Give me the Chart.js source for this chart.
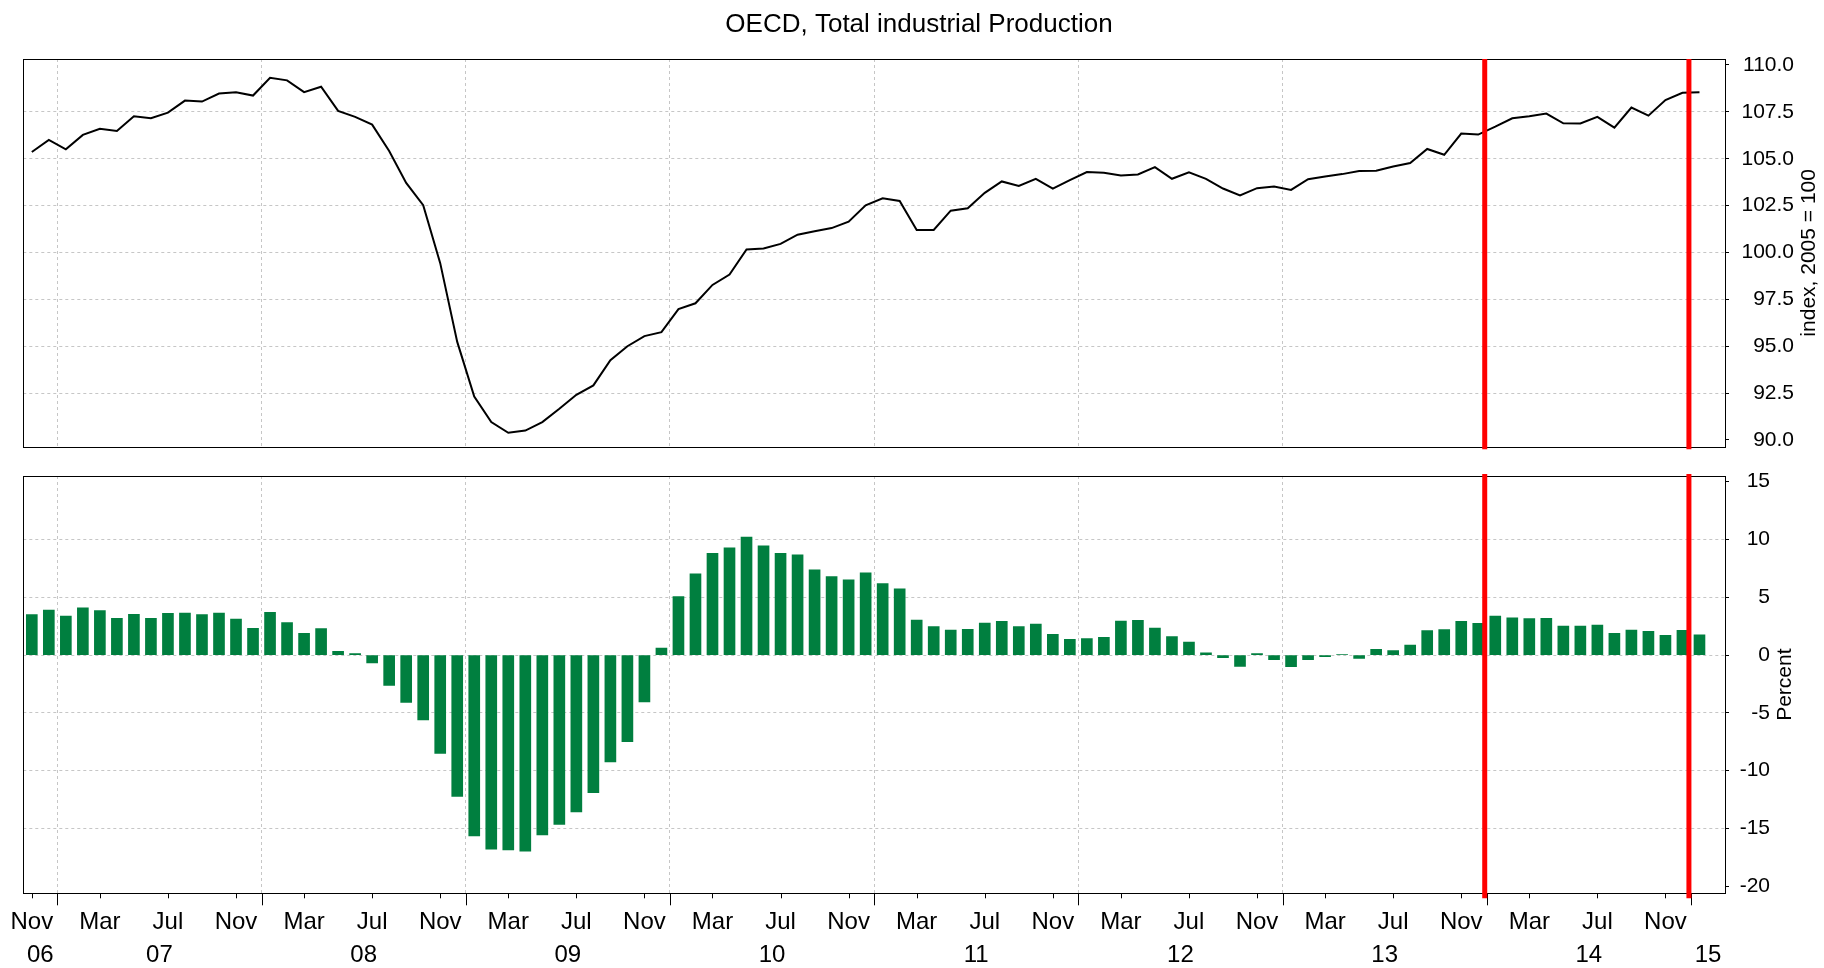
<!DOCTYPE html>
<html>
<head>
<meta charset="utf-8">
<title>OECD, Total industrial Production</title>
<script src="https://cdn.jsdelivr.net/npm/chart.js@4.4.1/dist/chart.umd.min.js"></script>
<style>
    html, body { margin: 0; padding: 0; background: #fff; }
    #wrap { position: relative; width: 1824px; height: 968px; }
    canvas { position: absolute; left: 0; }
    #chart_index { top: 0; }
    #chart_growth { top: 462px; }
</style>
</head>
<body>
<div id="wrap">
    <canvas id="chart_index" width="1824" height="462"></canvas>
    <canvas id="chart_growth" width="1824" height="506"></canvas>
</div>
<script>
    // monthly data, Nov 2006 .. Jan 2015
    const first_month = 11;          // Nov 2006
    const x_min = 10;                // axis start, months since Jan 2006
    const x_max = 110;               // axis end

    const index_values = [
        105.36, 106.0,
        105.5, 106.27, 106.6, 106.48, 107.27, 107.16, 107.46, 108.1, 108.05, 108.48, 108.55, 108.37,
        109.32, 109.18, 108.55, 108.84, 107.55, 107.23, 106.82, 105.41, 103.71, 102.52, 99.43, 95.23,
        92.32, 90.95, 90.38, 90.5, 90.95, 91.66, 92.41, 92.91, 94.25, 95.0, 95.54, 95.75,
        96.98, 97.29, 98.27, 98.82, 100.16, 100.21, 100.46, 100.95, 101.13, 101.3, 101.64, 102.52,
        102.89, 102.75, 101.2, 101.2, 102.23, 102.36, 103.18, 103.79, 103.55, 103.93, 103.41, 103.86,
        104.29, 104.25, 104.11, 104.16, 104.55, 103.93, 104.27, 103.93, 103.41, 103.04, 103.43, 103.52,
        103.34, 103.91, 104.05, 104.18, 104.34, 104.36, 104.59, 104.77, 105.52, 105.21, 106.34, 106.29,
        106.71, 107.16, 107.27, 107.41, 106.89, 106.88, 107.23, 106.66, 107.73, 107.3, 108.13, 108.52,
        108.55
    ];
    const growth_values = [
        3.5, 3.9,
        3.38, 4.08, 3.84, 3.18, 3.53, 3.18, 3.61, 3.64, 3.5, 3.64, 3.12, 2.31,
        3.7, 2.8, 1.88, 2.28, 0.32, 0.12, -0.69, -2.63, -4.1, -5.61, -8.5, -12.23,
        -15.64, -16.79, -16.85, -16.97, -15.55, -14.65, -13.58, -11.91, -9.25, -7.49, -4.05, 0.61,
        5.06, 7.02, 8.79, 9.28, 10.2, 9.45, 8.79, 8.67, 7.37, 6.79, 6.5, 7.11,
        6.18, 5.72, 3.03, 2.46, 2.17, 2.23, 2.77, 2.92, 2.46, 2.69, 1.79, 1.36,
        1.42, 1.53, 2.95, 3.01, 2.34, 1.59, 1.13, 0.2, -0.23, -0.98, 0.12, -0.4,
        -1.01, -0.4, -0.14, 0.05, -0.29, 0.49, 0.38, 0.87, 2.11, 2.2, 2.92, 2.75,
        3.38, 3.21, 3.15, 3.18, 2.51, 2.51, 2.6, 1.88, 2.17, 2.05, 1.71, 2.14,
        1.76
    ];
    const index_ticks = [90, 92.5, 95, 97.5, 100, 102.5, 105, 107.5, 110];
    const growth_ticks = [-20, -15, -10, -5, 0, 5, 10, 15];
    const month_names = {3: 'Mar', 7: 'Jul', 11: 'Nov'};
    const year_names = ['06', '07', '08', '09', '10', '11', '12', '13', '14', '15'];
    const marker_x = [95.88, 107.88];   // red lines, end of Dec 13 and Dec 14

    const grid_color = '#c6c6c6';
    const no_color = 'rgba(0,0,0,0)';
    const font_family = '"Liberation Sans", Arial, Helvetica, sans-serif';

    Chart.defaults.font.family = font_family;
    Chart.defaults.color = '#000';

    function monthX(i) {
        return (first_month - 1) + i + 0.5;
    }
    const index_points = index_values.map((v, i) => ({x: monthX(i), y: v}));
    const growth_points = growth_values.map((v, i) => ({x: monthX(i), y: v}));

    const year_starts = [];
    for (let m = 12; m < x_max; m += 12) year_starts.push(m);

    const x_labels = new Map();
    const x_ticks = [];
    for (let m = x_min; m < x_max; m++) {
        const name = month_names[m % 12 + 1];
        if (name) {
            x_ticks.push(m + 0.5);
            x_labels.set(m + 0.5, name);
        }
    }
    year_starts.forEach(v => x_ticks.push(v));
    year_names.forEach((name, k) => {
        const a = Math.max(k * 12, x_min);
        const b = Math.min(k * 12 + 12, x_max);
        if (b > a) {
            x_ticks.push((a + b) / 2);
            x_labels.set((a + b) / 2, ['', name]);
        }
    });
    x_ticks.sort((a, b) => a - b);

    function innerGrid(ticks) {
        return function(ctx) {
            if (!ctx.tick) return no_color;
            const v = ctx.tick.value;
            return (v > ticks[0] && v < ticks[ticks.length - 1]) ? grid_color : no_color;
        };
    }

    const framePlugin = {
        id: 'frame',
        afterDraw(chart, args, opts) {
            const a = chart.chartArea;
            const ctx = chart.ctx;
            ctx.save();
            // box around the plot
            ctx.strokeStyle = '#000';
            ctx.lineWidth = 1;
            ctx.strokeRect(Math.round(a.left) + 0.5, Math.round(a.top) + 0.5,
                Math.round(a.right) - Math.round(a.left), Math.round(a.bottom) - Math.round(a.top));
            // month / year tick marks below the plot
            const sx = chart.scales.x;
            if (opts.xTicks) {
                sx.ticks.forEach(t => {
                    let len = 0;
                    if (t.value % 12 === 0) len = 12;
                    else if (x_labels.has(t.value) && !Array.isArray(x_labels.get(t.value))) len = 5;
                    if (!len) return;
                    const px = Math.round(sx.getPixelForValue(t.value)) + 0.5;
                    ctx.beginPath();
                    ctx.moveTo(px, a.bottom);
                    ctx.lineTo(px, a.bottom + len);
                    ctx.stroke();
                });
            }
            // red markers
            ctx.strokeStyle = '#ff0000';
            ctx.lineWidth = 5;
            marker_x.forEach(v => {
                const px = sx.getPixelForValue(v);
                ctx.beginPath();
                ctx.moveTo(px, a.top - opts.above);
                ctx.lineTo(px, a.bottom + opts.below);
                ctx.stroke();
            });
            ctx.fillStyle = '#000';
            ctx.textAlign = 'center';
            ctx.textBaseline = 'middle';
            // chart heading
            if (opts.heading) {
                ctx.font = '26px ' + font_family;
                ctx.fillText(opts.heading, opts.headingX, opts.headingY);
            }
            // rotated axis title on the right
            ctx.translate(a.right + opts.titleOffset, (a.top + a.bottom) / 2);
            ctx.rotate(-Math.PI / 2);
            ctx.font = '21px ' + font_family;
            ctx.fillText(opts.title, 0, 0);
            ctx.restore();
        }
    };

    new Chart(document.getElementById('chart_index'), {
        type: 'line',
        data: {
            datasets: [{
                label: 'Index',
                data: index_points,
                borderColor: '#000',
                borderWidth: 2,
                pointRadius: 0,
                tension: 0
            }]
        },
        options: {
            responsive: false,
            animation: false,
            layout: {
                autoPadding: false,
                padding: {left: 23.3, right: 30, top: 59, bottom: 15.3}
            },
            plugins: {
                legend: {display: false},
                tooltip: {enabled: false},
                frame: {
                    title: 'index, 2005 = 100', titleOffset: 84, above: 0, below: 2.5,
                    heading: 'OECD, Total industrial Production', headingX: 919, headingY: 25
                }
            },
            scales: {
                x: {
                    type: 'linear',
                    min: x_min,
                    max: x_max,
                    offset: false,
                    afterBuildTicks: s => { s.ticks = year_starts.map(v => ({value: v})); },
                    afterFit: s => { s.height = 0; s.paddingLeft = 0; s.paddingRight = 0; },
                    ticks: {display: false},
                    grid: {color: grid_color, drawTicks: false, offset: false},
                    border: {display: false, dash: [3, 3]}
                },
                y: {
                    position: 'right',
                    min: 89.64,
                    max: 110.32,
                    afterBuildTicks: s => { s.ticks = index_ticks.map(v => ({value: v})); },
                    afterFit: s => { s.width = 69; s.paddingTop = 0; s.paddingBottom = 0; },
                    ticks: {
                        font: {size: 21},
                        color: '#000',
                        padding: 14,
                        crossAlign: 'far',
                        callback: v => v.toFixed(1)
                    },
                    grid: {color: innerGrid(index_ticks), tickColor: '#000', tickLength: 4},
                    border: {display: false, dash: [3, 3]}
                }
            }
        },
        plugins: [framePlugin]
    });

    new Chart(document.getElementById('chart_growth'), {
        type: 'bar',
        data: {
            datasets: [{
                label: 'Percent',
                data: growth_points,
                backgroundColor: '#007f3f',
                borderWidth: 0,
                barThickness: 11
            }]
        },
        options: {
            responsive: false,
            animation: false,
            layout: {
                autoPadding: false,
                padding: {left: 23.3, right: 54, top: 14, bottom: 0}
            },
            plugins: {
                legend: {display: false},
                tooltip: {enabled: false},
                frame: {title: 'Percent', titleOffset: 60, above: 2, below: 5, xTicks: true}
            },
            scales: {
                x: {
                    type: 'linear',
                    min: x_min,
                    max: x_max,
                    offset: false,
                    afterBuildTicks: s => { s.ticks = x_ticks.map(v => ({value: v})); },
                    afterFit: s => { s.height = 74.7; s.paddingLeft = 0; s.paddingRight = 0; },
                    ticks: {
                        autoSkip: false,
                        maxRotation: 0,
                        minRotation: 0,
                        padding: 13,
                        color: '#000',
                        font: {size: 24, lineHeight: 1.35},
                        callback: v => x_labels.has(v) ? x_labels.get(v) : ''
                    },
                    grid: {
                        color: ctx => (ctx.tick && ctx.tick.value % 12 === 0) ? grid_color : no_color,
                        drawTicks: false,
                        offset: false
                    },
                    border: {display: false, dash: [3, 3]}
                },
                y: {
                    position: 'right',
                    min: -20.61,
                    max: 15.49,
                    afterBuildTicks: s => { s.ticks = growth_ticks.map(v => ({value: v})); },
                    afterFit: s => { s.width = 45; s.paddingTop = 0; s.paddingBottom = 0; },
                    ticks: {
                        font: {size: 21},
                        color: '#000',
                        padding: 12,
                        crossAlign: 'far',
                        callback: v => String(v)
                    },
                    grid: {color: innerGrid(growth_ticks), tickColor: '#000', tickLength: 4},
                    border: {display: false, dash: [3, 3]}
                }
            }
        },
        plugins: [framePlugin]
    });
</script>
</body>
</html>
